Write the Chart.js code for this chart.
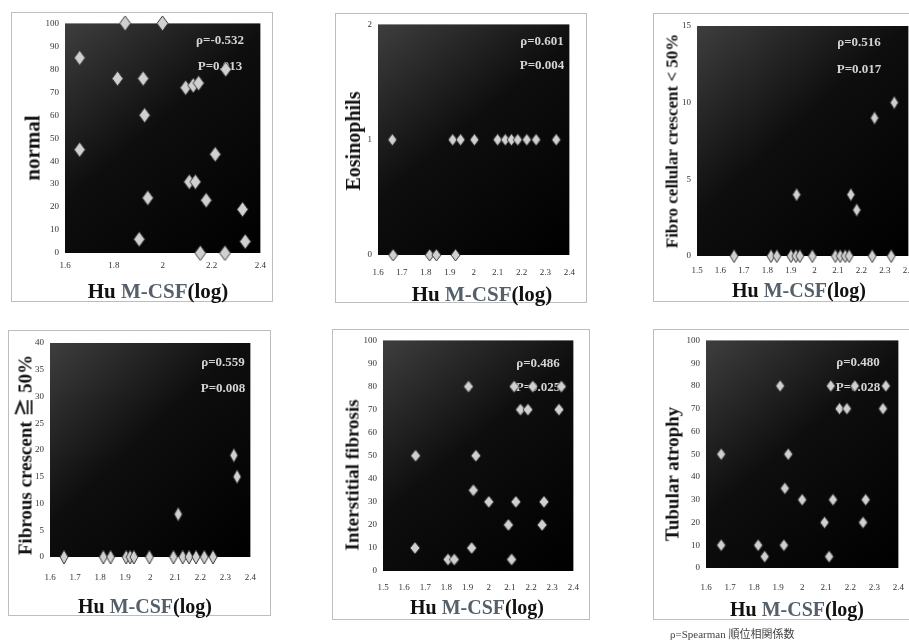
<!DOCTYPE html>
<html>
<head>
<meta charset="utf-8">
<script src="https://cdn.jsdelivr.net/npm/chart.js@4.4.0/dist/chart.umd.min.js"></script>
<style>
  html, body { margin: 0; padding: 0; background: #fff; width: 909px; height: 643px; overflow: hidden; position: relative; font-family: "Liberation Serif", "Noto Sans CJK JP", serif; }
  .box { position: absolute; border: 1px solid #bdbdbd; box-sizing: border-box; }
  canvas { position: absolute; }
  .ytitle { position: absolute; white-space: nowrap; font-weight: bold; color: #111; line-height: 1; transform: translate(-50%, -50%) rotate(-90deg); }
  .xtitle { position: absolute; white-space: nowrap; font-weight: bold; color: #111; line-height: 1; transform: translate(-50%, -50%); }
  .xtitle .m { color: #56606b; }
  .note { position: absolute; left: 670px; top: 625px; font-size: 11px; color: #444; white-space: nowrap; }
</style>
</head>
<body>
<div id="wrap"></div>
<div class="note">ρ=Spearman 順位相関係数</div>
<script>
// values (x = Hu M-CSF, log)
const normalX = [1.846, 1.999, 1.66, 1.66, 1.815, 1.92, 1.926, 1.939, 1.904, 2.094, 2.125, 2.147, 2.109, 2.134, 2.215, 2.178, 2.154, 2.255, 2.258, 2.327, 2.338];
const normalY = [100, 100, 85, 45, 76, 76, 60, 24, 6, 72, 73, 74, 31, 31, 43, 23, 0, 0, 80, 19, 5];

const eosX = [1.663, 1.816, 1.844, 1.924, 1.660, 1.912, 1.945, 2.003, 2.100, 2.132, 2.158, 2.184, 2.222, 2.261, 2.345];
const eosY = [0, 0, 0, 0, 1, 1, 1, 1, 1, 1, 1, 1, 1, 1, 1];

const fibroCellX = [1.658, 1.815, 1.840, 1.900, 1.921, 1.938, 1.991, 2.089, 2.110, 2.131, 2.148, 2.246, 2.327, 1.924, 2.155, 2.180, 2.256, 2.340];
const fibroCellY = [0, 0, 0, 0, 0, 0, 0, 0, 0, 0, 0, 0, 0, 4, 4, 3, 9, 10];

const fibrousX = [1.656, 1.813, 1.842, 1.904, 1.920, 1.935, 1.997, 2.093, 2.130, 2.155, 2.183, 2.216, 2.251, 2.112, 2.334, 2.347];
const fibrousY = [0, 0, 0, 0, 0, 0, 0, 0, 0, 0, 0, 0, 0, 8, 19, 15];

const interX = [1.904, 1.654, 1.939, 1.927, 2.0, 2.128, 2.261, 2.093, 2.252, 1.651, 1.919, 1.807, 1.837, 2.108, 2.150, 2.185, 2.332, 2.343, 2.120, 2.208];
const interY = [80, 50, 50, 35, 30, 30, 30, 20, 20, 10, 10, 5, 5, 5, 70, 70, 70, 80, 80, 80];

const tubularX = [1.908, 1.663, 1.942, 1.928, 2.0, 2.128, 2.264, 2.093, 2.253, 1.663, 1.817, 1.924, 1.844, 2.112, 2.155, 2.186, 2.336, 2.348, 2.119, 2.219];
const tubularY = [80, 50, 50, 35, 30, 30, 30, 20, 20, 10, 10, 10, 5, 5, 70, 70, 70, 80, 80, 80];

const yTitles = ['normal', 'Eosinophils', 'Fibro cellular crescent < 50%', 'Fibrous crescent ≧ 50%', 'Interstitial fibrosis', 'Tubular atrophy'];
const rhoLabels = ['ρ=-0.532', 'ρ=0.601', 'ρ=0.516', 'ρ=0.559', 'ρ=0.486', 'ρ=0.480'];
const pLabels = ['P=0.013', 'P=0.004', 'P=0.017', 'P=0.008', 'P=0.025', 'P=0.028'];
// [min, max, step]
const xTicks = [[1.6, 2.4, 0.2], [1.6, 2.4, 0.1], [1.5, 2.4, 0.1], [1.6, 2.4, 0.1], [1.5, 2.4, 0.1], [1.6, 2.4, 0.1]];
const yTicks = [[0, 100, 10], [0, 2, 1], [0, 15, 5], [0, 40, 5], [0, 100, 10], [0, 100, 10]];

const series = [[normalX, normalY], [eosX, eosY], [fibroCellX, fibroCellY], [fibrousX, fibrousY], [interX, interY], [tubularX, tubularY]];

// page layout: box [l, t, w, h], plot [l, t, r, b], tick label y, titles, stats text, marker size
const panels = [
  { box: [11, 12, 262, 290], plot: [65, 21, 266, 253], tickY: 265, yt: [33, 148, 21], xt: [158, 291, 21], st: [220, 41, 67], mk: [11, 15] },
  { box: [335, 13, 252, 290], plot: [378, 23, 584, 255], tickY: 272, yt: [353, 141, 20], xt: [482, 294, 21], st: [542, 42, 66], mk: [9, 12] },
  { box: [653, 13, 270, 289], plot: [697, 26, 911, 256], tickY: 270, yt: [672, 141, 17], xt: [799, 290, 20], st: [859, 43, 70], mk: [8, 13] },
  { box: [8, 330, 263, 286], plot: [50, 343, 265, 557], tickY: 577, yt: [25, 455, 19], xt: [145, 606, 20], st: [223, 363, 389], mk: [8, 14] },
  { box: [332, 329, 258, 291], plot: [383, 339, 584, 571], tickY: 587, yt: [352, 475, 19], xt: [477, 607, 20], st: [538, 364, 388], mk: [10, 12] },
  { box: [653, 329, 265, 291], plot: [706, 340, 905, 568], tickY: 587, yt: [672, 474, 19], xt: [797, 609, 20], st: [858, 363, 388], mk: [9, 12] }
];

function diamond(w, h) {
  const c = document.createElement('canvas');
  c.width = w + 2;
  c.height = h + 2;
  const g = c.getContext('2d');
  g.beginPath();
  g.moveTo(c.width / 2, 1);
  g.lineTo(c.width - 1, c.height / 2);
  g.lineTo(c.width / 2, c.height - 1);
  g.lineTo(1, c.height / 2);
  g.closePath();
  g.fillStyle = '#d0d0d0';
  g.fill();
  g.strokeStyle = '#3a3a3a';
  g.lineWidth = 1;
  g.stroke();
  return c;
}

const plotBg = {
  id: 'plotBg',
  beforeDraw(chart) {
    const { ctx, chartArea: a } = chart;
    const g = ctx.createLinearGradient(a.left, a.top, a.right, a.bottom);
    g.addColorStop(0, '#3e3e3e');
    g.addColorStop(0.45, '#0e0e0e');
    g.addColorStop(1, '#000');
    ctx.save();
    ctx.fillStyle = g;
    ctx.fillRect(a.left, a.top, a.width, a.height);
    ctx.restore();
  },
  beforeDatasetsDraw(chart, args, opts) {
    const ctx = chart.ctx;
    ctx.save();
    ctx.font = 'bold 13px "Liberation Serif"';
    ctx.fillStyle = '#d4d4d4';
    ctx.textAlign = 'center';
    ctx.textBaseline = 'middle';
    ctx.fillText(opts.rho, opts.x, opts.y1);
    ctx.fillText(opts.p, opts.x, opts.y2);
    ctx.restore();
  }
};

const fmt = v => String(Math.round(v * 10) / 10);
const wrap = document.getElementById('wrap');

panels.forEach((p, i) => {
  const [bl, bt, bw, bh] = p.box;
  const [pl, pt, pr, pb] = p.plot;

  const box = document.createElement('div');
  box.className = 'box';
  Object.assign(box.style, { left: bl + 'px', top: bt + 'px', width: bw + 'px', height: bh + 'px' });
  wrap.appendChild(box);

  const cv = document.createElement('canvas');
  cv.width = bw;
  cv.height = bh;
  Object.assign(cv.style, { left: bl + 'px', top: bt + 'px', width: bw + 'px', height: bh + 'px' });
  wrap.appendChild(cv);

  const yt = document.createElement('div');
  yt.className = 'ytitle';
  yt.textContent = yTitles[i];
  Object.assign(yt.style, { left: p.yt[0] + 'px', top: p.yt[1] + 'px', fontSize: p.yt[2] + 'px' });
  wrap.appendChild(yt);

  const xt = document.createElement('div');
  xt.className = 'xtitle';
  xt.innerHTML = 'Hu <span class="m">M-CSF</span>(log)';
  Object.assign(xt.style, { left: p.xt[0] + 'px', top: p.xt[1] + 'px', fontSize: p.xt[2] + 'px' });
  wrap.appendChild(xt);

  const [xs, ys] = series[i];
  const tickFont = { family: '"Liberation Serif"', size: 9 };

  new Chart(cv, {
    type: 'scatter',
    data: {
      datasets: [{
        data: xs.map((x, k) => ({ x: x, y: ys[k] })),
        pointStyle: diamond(p.mk[0], p.mk[1]),
        pointRadius: 6,
        clip: false
      }]
    },
    options: {
      responsive: false,
      animation: false,
      devicePixelRatio: 1,
      layout: { padding: { left: 0, top: pt - bt, right: bl + bw - pr, bottom: 0 } },
      plugins: {
        legend: { display: false },
        tooltip: { enabled: false },
        plotBg: { rho: rhoLabels[i], p: pLabels[i], x: p.st[0] - bl, y1: p.st[1] - bt, y2: p.st[2] - bt }
      },
      scales: {
        x: {
          type: 'linear',
          min: xTicks[i][0],
          max: xTicks[i][1],
          afterFit: s => { s.height = bt + bh - pb; },
          grid: { display: false, drawTicks: false },
          border: { display: false },
          ticks: { stepSize: xTicks[i][2], autoSkip: false, maxRotation: 0, padding: p.tickY - pb - 5, font: tickFont, color: '#333', callback: fmt }
        },
        y: {
          min: yTicks[i][0],
          max: yTicks[i][1],
          afterFit: s => { s.width = pl - bl; },
          grid: { display: false, drawTicks: false },
          border: { display: false },
          ticks: { stepSize: yTicks[i][2], padding: 6, font: tickFont, color: '#333' }
        }
      }
    },
    plugins: [plotBg]
  });
});
</script>
</body>
</html>
